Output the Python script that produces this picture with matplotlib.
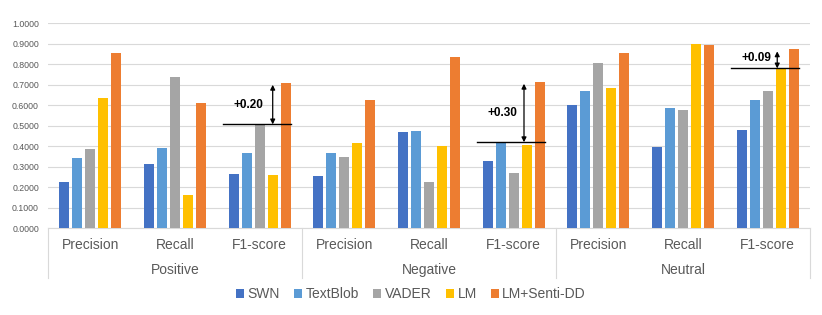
import matplotlib.pyplot as plt
import numpy as np

plt.rcParams['font.family'] = ['Liberation Sans', 'DejaVu Sans']

metrics = ['Precision', 'Recall', 'F1-score'] * 3
groups = ['Positive', 'Negative', 'Neutral']
methods = ['SWN', 'TextBlob', 'VADER', 'LM', 'LM+Senti-DD']
colors = ['#4472C4', '#5B9BD5', '#A5A5A5', '#FFC000', '#ED7D31']

swn = [0.227, 0.312, 0.263, 0.255, 0.468, 0.330, 0.601, 0.398, 0.478]
textblob = [0.343, 0.393, 0.366, 0.369, 0.476, 0.415, 0.670, 0.585, 0.624]
vader = [0.387, 0.738, 0.509, 0.348, 0.224, 0.271, 0.807, 0.576, 0.671]
lm = [0.637, 0.162, 0.260, 0.418, 0.400, 0.408, 0.684, 0.900, 0.778]
lm_senti = [0.854, 0.610, 0.710, 0.626, 0.834, 0.715, 0.855, 0.892, 0.873]

# F1 improvement annotations: category index, best baseline, label
gain_idx = [2, 5, 8]
gain_base = [0.507, 0.420, 0.780]
gain_text = ['+0.20', '+0.30', '+0.09']

series = [swn, textblob, vader, lm, lm_senti]

fig = plt.figure(figsize=(8.22, 3.15), dpi=100)
ax = fig.add_axes([0.0584, 0.2752, 0.927, 0.6508])

x = np.arange(len(metrics))
step = 0.1535
width = 0.118
for i, (vals, c, name) in enumerate(zip(series, colors, methods)):
    ax.bar(x + (i - 2) * step, vals, width, color=c, label=name, zorder=3)

ax.set_xlim(-0.5, len(metrics) - 0.5)
ax.set_ylim(0, 1)
ax.set_yticks(np.arange(0, 1.01, 0.1))
ax.set_yticklabels([f'{v:.4f}' for v in np.arange(0, 1.01, 0.1)])
ax.tick_params(axis='y', length=0, pad=6.5, labelsize=6.3, labelcolor='#595959')
ax.set_xticks([])
ax.grid(axis='y', color='#D9D9D9', lw=0.8, zorder=0)
for s in ['top', 'right', 'left']:
    ax.spines[s].set_visible(False)
ax.spines['bottom'].set_color('#D9D9D9')

# two-level category axis
tr = ax.get_xaxis_transform()
for xi, m in zip(x, metrics):
    ax.text(xi, -0.0815, m, transform=tr, ha='center', va='center',
            fontsize=10, color='#595959')
for gi, g in enumerate(groups):
    ax.text(gi * 3 + 1, -0.203, g, transform=tr, ha='center', va='center',
            fontsize=10, color='#595959')
for b in [-0.5, 2.5, 5.5, 8.5]:
    ax.plot([b, b], [0, -0.242], transform=tr, color='#D9D9D9', lw=0.8,
            clip_on=False)

# improvement markers
arrow_off = [0.154, 0.122, 0.113]
for idx, base, txt, off in zip(gain_idx, gain_base, gain_text, arrow_off):
    top = lm_senti[idx] - 0.01
    ax.plot([idx - 0.43, idx + 0.37], [base, base], color='black', lw=1, zorder=4)
    ax.annotate('', xy=(idx + off, top), xytext=(idx + off, base),
                arrowprops=dict(arrowstyle='<|-|>', color='black', lw=0.9,
                                mutation_scale=7, shrinkA=0, shrinkB=0),
                zorder=5)
    ty = (base + top) / 2 if idx != 8 else base + 0.05
    ax.text(idx - 0.135, ty, txt, ha='center', va='center',
            fontsize=8.5, fontweight='bold')

fig.legend(loc='center', bbox_to_anchor=(0.5, 0.066), ncol=5, frameon=False,
           fontsize=10, handlelength=0.6, handleheight=0.6, handletextpad=0.25,
           columnspacing=1.0, labelcolor='#595959')

plt.savefig('out.png', dpi=100)
